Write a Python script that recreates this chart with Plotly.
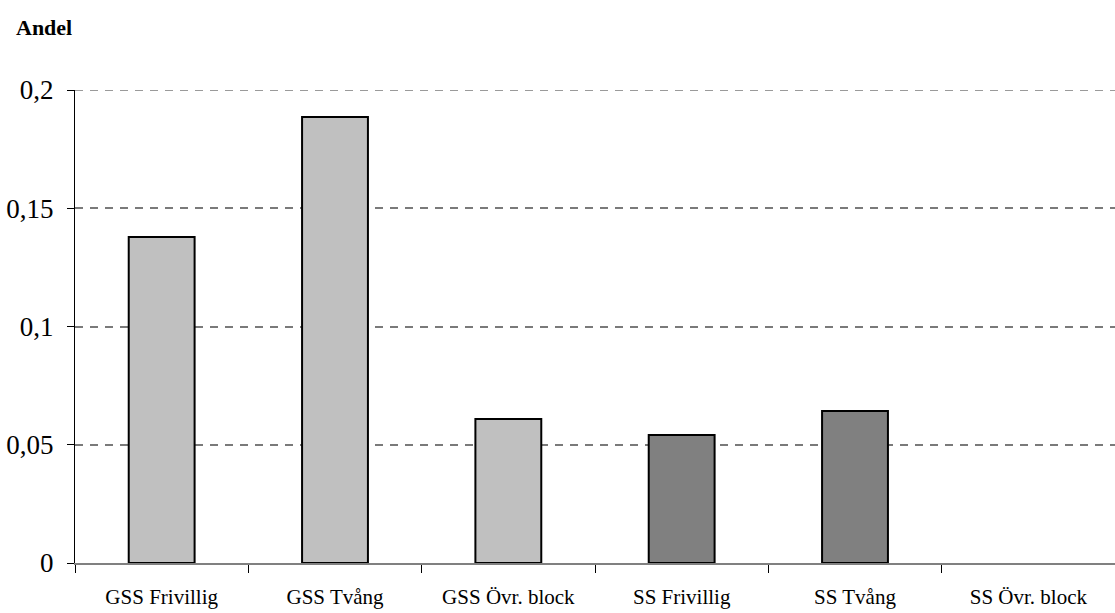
import plotly.graph_objects as go

# Share per category
categories = ["GSS Frivillig", "GSS Tvång", "GSS Övr. block",
              "SS Frivillig", "SS Tvång", "SS Övr. block"]
andel = [0.1378, 0.1886, 0.0609, 0.0541, 0.0643, 0.0]
group = ["GSS", "GSS", "GSS", "SS", "SS", "SS"]

y_tickvals = [0, 0.05, 0.1, 0.15, 0.2]
y_ticktext = ["0", "0,05", "0,1", "0,15", "0,2"]

group_colors = {"GSS": "#C0C0C0", "SS": "#808080"}
bar_colors = [group_colors[g] for g in group]
# empty bars get no outline
outline_widths = [2 if v > 0 else 0 for v in andel]

font_family = "Liberation Serif, Times New Roman, serif"
grid_dash = "8px,7px"
grid_color = "#7a7a7a"

fig = go.Figure(
    go.Bar(
        x=categories,
        y=andel,
        marker=dict(color=bar_colors,
                    line=dict(color="#000000", width=outline_widths)),
        width=0.38,
        showlegend=False,
        hoverinfo="x+y",
    )
)

fig.update_layout(
    width=1115,
    height=613,
    margin=dict(l=75, r=0, t=90, b=50),
    paper_bgcolor="white",
    plot_bgcolor="white",
    font=dict(family=font_family, size=21, color="#000000"),
    annotations=[
        dict(
            text="<b>Andel</b>",
            xref="paper", yref="paper",
            x=-0.059, y=1.133,
            xanchor="left", yanchor="middle",
            showarrow=False,
            font=dict(family=font_family, size=22, color="#000000"),
        )
    ],
    # top gridline sits on the edge of the range, so it is drawn explicitly
    shapes=[
        dict(
            type="line", xref="paper", yref="y",
            x0=0, x1=1, y0=y_tickvals[-1], y1=y_tickvals[-1],
            line=dict(color=grid_color, width=1.6, dash=grid_dash),
            layer="below",
        )
    ],
)

fig.update_xaxes(
    type="category",
    showline=True,
    linecolor="#808080",
    linewidth=2,
    ticks="outside",
    tickson="boundaries",
    ticklen=8,
    tickcolor="#000000",
    tickwidth=1,
    showgrid=False,
    tickfont=dict(family=font_family, size=21),
    ticklabelstandoff=14,
)

fig.update_yaxes(
    range=[0, 0.2],
    tickvals=y_tickvals,
    ticktext=y_ticktext,
    showline=True,
    linecolor="#000000",
    linewidth=1,
    ticks="outside",
    ticklen=7,
    tickcolor="#000000",
    showgrid=True,
    gridcolor=grid_color,
    griddash=grid_dash,
    gridwidth=1.6,
    zeroline=False,
    tickfont=dict(family=font_family, size=27),
    ticklabelstandoff=8,
)

fig.write_html("out.html")
